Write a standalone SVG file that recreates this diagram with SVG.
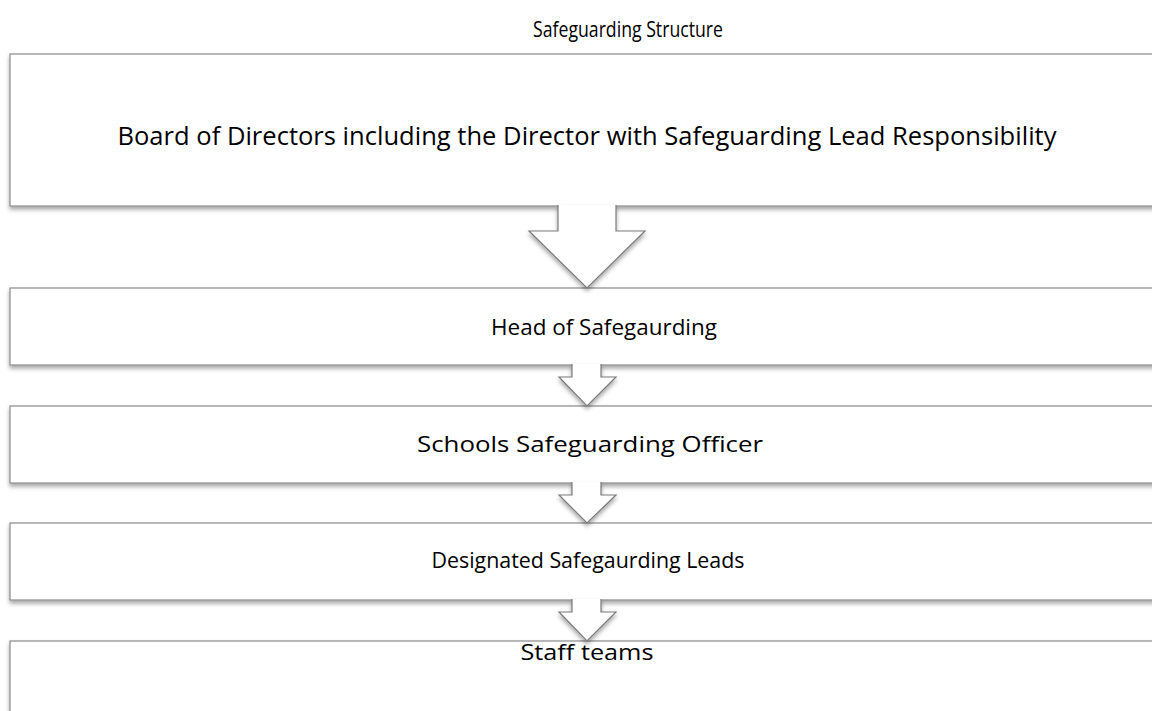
<svg xmlns="http://www.w3.org/2000/svg" width="1152" height="711" viewBox="0 0 1152 711">
<defs>
<filter id="sh" x="-5%" y="-20%" width="110%" height="150%">
<feDropShadow dx="0" dy="3" stdDeviation="2" flood-color="#000" flood-opacity="0.35"/>
</filter>
<style>
.box{fill:#fff;stroke:#8a8a8a;stroke-width:1.2;filter:url(#sh)}
.arr{fill:#fff;stroke:#7a7a7a;stroke-width:1.2;filter:url(#sh)}
text{font-family:"Open Sans","Liberation Sans",sans-serif;fill:#000;text-anchor:middle}
</style>
</defs>
<rect width="1152" height="711" fill="#fff"/>
<text x="628" y="37" font-size="21" textLength="190" lengthAdjust="spacingAndGlyphs">Safeguarding Structure</text>
<g id="n1"><rect class="box" x="10" y="54" width="1160" height="152"/>
<text x="587" y="145" font-size="25" textLength="939" lengthAdjust="spacingAndGlyphs">Board of Directors including the Director with Safeguarding Lead Responsibility</text></g>
<g id="n2"><rect class="box" x="10" y="288" width="1160" height="77"/>
<text x="604" y="335" font-size="22" textLength="226" lengthAdjust="spacingAndGlyphs">Head of Safegaurding</text></g>
<g id="n3"><rect class="box" x="10" y="406" width="1160" height="77"/>
<text x="590" y="452" font-size="22" textLength="346" lengthAdjust="spacingAndGlyphs">Schools Safeguarding Officer</text></g>
<g id="n4"><rect class="box" x="10" y="523" width="1160" height="77"/>
<text x="588" y="568" font-size="22" textLength="313" lengthAdjust="spacingAndGlyphs">Designated Safegaurding Leads</text></g>
<g id="n5"><rect class="box" x="10" y="641" width="1160" height="120"/>
<text x="587" y="660" font-size="22" textLength="133" lengthAdjust="spacingAndGlyphs">Staff teams</text></g>
<g id="connectors">
<path class="arr" d="M558,205 L558,231 L529,231 L587,288 L645,231 L616,231 L616,205"/>
<path class="arr" d="M572,364 L572,377 L559,377 L587,406 L616,377 L601,377 L601,364"/>
<path class="arr" d="M572,482 L572,495 L559,495 L587,523 L616,495 L601,495 L601,482"/>
<path class="arr" d="M572,599 L572,612 L559,612 L587,641 L616,612 L601,612 L601,599"/>
</g>
</svg>
